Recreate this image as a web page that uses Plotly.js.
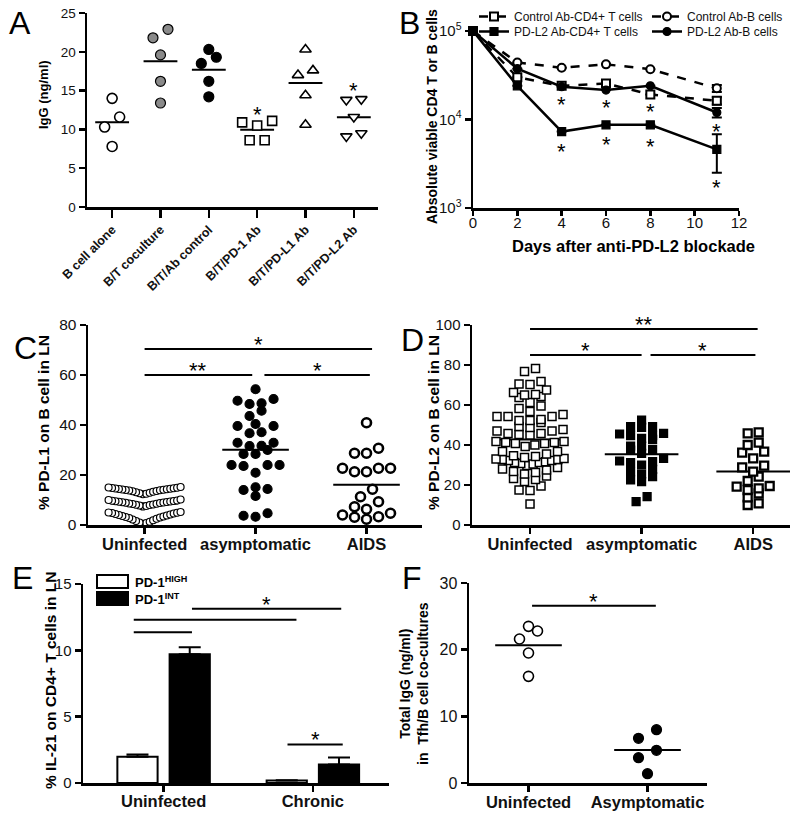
<!DOCTYPE html>
<html>
<head>
<meta charset="utf-8">
<script src="https://cdn.plot.ly/plotly-3.0.1.min.js"></script>
<style>html,body{margin:0;padding:0;background:#fff}#fig{width:800px;height:817px}</style>
</head>
<body>
<div id="fig"></div>
<script>
// A: IgG in B/T cocultures
const groupsA = ['B cell alone', 'B/T coculture', 'B/T/Ab control', 'B/T/PD-1 Ab', 'B/T/PD-L1 Ab', 'B/T/PD-L2 Ab'];
const bAlone = [14.0, 11.6, 10.3, 7.8];
const btCoculture = [22.9, 21.8, 19.6, 16.2, 13.4];
const btAbControl = [20.3, 19.3, 18.5, 16.2, 14.2];
const btPD1 = [11.1, 10.9, 10.5, 8.6, 8.6];
const btPDL1 = [20.3, 17.6, 17.0, 14.4, 10.6];
const btPDL2 = [13.9, 13.8, 11.6, 9.5, 9.1];
const starsA = [[3, 12.7], [5, 15.9]];

// B: viable cells after blockade
const days = [0, 2, 4, 6, 8, 11];
const ctrlT = [100000, 30000, 24000, 25500, 19200, 16300];
const ctrlB = [100000, 44000, 38500, 42000, 37000, 22500];
const pdl2T = [100000, 24000, 7300, 8700, 8700, 4600];
const pdl2B = [100000, 37500, 23500, 21500, 24000, 12000];
const ctrlTErr = [0, 0, 0, 0, 0, 1500];
const ctrlBErr = [0, 0, 0, 0, 0, 2000];
const pdl2TErrUp = [0, 0, 0, 0, 0, 2200];
const pdl2TErrDown = [0, 0, 0, 0, 0, 2100];
const pdl2BErr = [0, 0, 0, 0, 0, 1500];
const starsB = [[4, 17400], [4, 5200], [6, 16100], [6, 6100], [8, 14600], [8, 5900], [11, 8700], [11, 2000]];

// C: PD-L1 on LN B cells
const groupsC = ['Uninfected', 'asymptomatic', 'AIDS'];
const pdl1Uninf = [0.5, 0.8, 1.0, 1.3, 1.6, 1.9, 2.2, 2.5, 2.8, 3.0, 3.2, 3.4, 3.6, 3.8, 4.0, 4.2, 4.4, 4.6, 4.8, 4.9, 5.0, 5.2,
  7.4, 7.6, 7.8, 8.0, 8.1, 8.2, 8.4, 8.5, 8.6, 8.8, 8.9, 9.0, 9.1, 9.2, 9.3, 9.4, 9.5, 9.6, 9.7, 9.8, 10.0, 10.2,
  12.3, 12.5, 12.7, 12.9, 13.1, 13.3, 13.5, 13.6, 13.8, 13.9, 14.0, 14.1, 14.2, 14.3, 14.4, 14.5, 14.6, 14.7, 14.8, 14.9, 15.0, 15.2];
const pdl1Asym = [54.3, 50.4, 48.7, 49.7, 48.4, 45.7, 43.6, 40.4, 39.6, 36.7, 37.1, 39.6, 32.9, 31.6, 31.7, 30.0,
  32.9, 28.4, 28.4, 24.0, 24.0, 23.6, 24.0, 20.9, 15.1, 14.0, 14.4, 11.6, 4.7, 3.3, 3.7];
const pdl1Aids = [40.9, 30.7, 28.7, 28.7, 22.7, 21.3, 21.3, 22.7, 22.7, 14.3, 11.3, 9.3, 7.3, 4.7, 3.3, 2.3, 3.1, 4.0, 6.3];
const sigC = [[0, 2.05, 70.4, '*'], [0, 0.97, 60, '**'], [1.08, 2.03, 60, '*']];

// D: PD-L2 on LN B cells
const groupsD = ['Uninfected', 'asymptomatic', 'AIDS'];
const pdl2Uninf = [76.7, 78.3, 71.7, 70.3, 70.5, 66.2, 67.5, 63.7, 65.0, 65.3, 64.2, 61.2, 59.5, 58.3,
  56.7, 54.2, 54.2, 52.8, 51.2, 52.2, 52.2, 54.2, 55.3, 48.7, 47.0, 45.8, 45.3, 45.0, 45.8, 47.0, 47.8, 49.2,
  41.7, 41.3, 40.8, 39.2, 36.7, 36.7, 40.0, 40.8, 41.2, 41.7, 34.2, 33.3, 32.8, 32.2, 31.2, 30.5, 31.2, 32.2,
  32.8, 33.8, 35.5, 30.8, 31.6, 33.0, 34.6, 29.8, 28.0, 26.2, 25.5, 23.3, 24.5, 26.7, 27.5, 28.8, 21.7, 22.8,
  17.5, 17.2, 19.5, 10.5];
const pdl2Asym = [52.5, 49.2, 48.8, 49.2, 42.8, 45.5, 44.7, 44.7, 45.8, 43.3, 39.5, 39.5, 37.8, 37.5, 35.8,
  33.3, 31.7, 30.0, 31.2, 32.0, 27.8, 25.5, 26.7, 22.5, 21.7, 24.2, 14.2, 11.7];
const pdl2Aids = [45.8, 46.3, 40.0, 41.2, 36.7, 36.2, 33.3, 28.8, 29.7, 24.2, 26.7, 19.2, 18.3, 17.5, 19.5,
  22.0, 13.8, 15.8, 10.0, 10.8];
const sigD = [[0, 2.04, 98, '**'], [0, 1.0, 85, '*'], [1.08, 2.02, 85, '*']];

// E: IL-21 on CD4+ T cells
const groupsE = ['Uninfected', 'Chronic'];
const il21High = [1.97, 0.18];
const il21HighErr = [0.17, 0.02];
const il21Int = [9.7, 1.39];
const il21IntErr = [0.53, 0.53];
const sigE = [[0.19, 1.19, 13.13, '*'], [-0.2, 0.89, 12.3, ''], [-0.2, 0.19, 11.37, ''], [0.83, 1.2, 2.9, '*']];

// F: total IgG in Tfh/B cocultures
const groupsF = ['Uninfected', 'Asymptomatic'];
const igUninf = [22.8, 21.6, 23.5, 19.5, 16.0];
const igAsym = [8.0, 6.7, 4.9, 3.8, 1.4];
const sigF = [[0.03, 1.07, 26.6, '*']];

const FONT = 'Liberation Sans, Arial, sans-serif';
const W = 800, H = 817;

// plot boxes in pixels
const boxes = {
  a: {n: '', l: 87, r: 378, t: 13, b: 207, xr: [-0.52, 5.5], yr: [0, 25]},
  b: {n: '2', l: 473, r: 739, t: 31, b: 208, xr: [0, 12], yr: [3, 5]},
  c: {n: '3', l: 88, r: 422, t: 325, b: 525, xr: [-0.51, 2.5], yr: [0, 80]},
  d: {n: '4', l: 472, r: 790, t: 325, b: 525, xr: [-0.52, 2.33], yr: [0, 100]},
  e: {n: '5', l: 83, r: 389, t: 584, b: 783, xr: [-0.54, 1.51], yr: [0, 15]},
  f: {n: '6', l: 469, r: 707, t: 583, b: 783, xr: [-0.5, 1.5], yr: [0, 30]}
};
const pxX = k => (boxes[k].r - boxes[k].l) / (boxes[k].xr[1] - boxes[k].xr[0]);
const pxY = k => (boxes[k].b - boxes[k].t) / (boxes[k].yr[1] - boxes[k].yr[0]);
const ax = k => ({xaxis: 'x' + boxes[k].n, yaxis: 'y' + boxes[k].n});

// column scatter layout: rows of close values spread sideways, lowest in the middle
const swarm = (values, idx, k, rowPx, spacePx, capPx) => {
  const sorted = values.slice().sort((a, b) => a - b);
  const rowH = rowPx / pxY(k);
  const rows = [];
  let row = [];
  sorted.forEach(v => {
    if (row.length && v - row[0] >= rowH) { rows.push(row); row = []; }
    row.push(v);
  });
  if (row.length) rows.push(row);
  const xs = [], ys = [];
  rows.forEach(r => {
    const n = r.length;
    const step = n > 1 ? Math.min(spacePx, capPx / (n - 1)) : 0;
    const slots = [];
    for (let i = 0; i < n; i++) slots.push(i - (n - 1) / 2);
    slots.sort((a, b) => Math.abs(a) - Math.abs(b) || a - b);
    r.forEach((v, i) => { xs.push(idx + slots[i] * step / pxX(k)); ys.push(v); });
  });
  return {x: xs, y: ys};
};

const traces = [];
const annotations = [];

const dots = (vals, idx, k, sw, marker) => {
  const p = swarm(vals, idx, k, sw[0], sw[1], sw[2]);
  traces.push(Object.assign({type: 'scatter', mode: 'markers', x: p.x, y: p.y, marker,
    showlegend: false, cliponaxis: false, hoverinfo: 'skip'}, ax(k)));
};

const meanLine = (vals, idx, k, half) => {
  const m = vals.reduce((s, v) => s + v, 0) / vals.length;
  traces.push(Object.assign({type: 'scatter', mode: 'lines', x: [idx - half, idx + half], y: [m, m],
    line: {color: '#000', width: 2}, showlegend: false, hoverinfo: 'skip', cliponaxis: false}, ax(k)));
};

const STAR = 22;
const starShift = 0.29 * STAR;
const star = (x, y, k, shift, text) => {
  annotations.push({x, y, xref: 'x' + boxes[k].n, yref: 'y' + boxes[k].n, text: text || '*', showarrow: false,
    yanchor: 'middle', yshift: shift - starShift, font: {family: FONT, size: STAR, color: '#000'}});
};

const sigBars = (list, k) => {
  const xs = [], ys = [];
  list.forEach(([x0, x1, y, lab]) => {
    xs.push(x0, x1, null); ys.push(y, y, null);
    if (lab) star((x0 + x1) / 2, y, k, 11, lab);
  });
  traces.push(Object.assign({type: 'scatter', mode: 'lines', x: xs, y: ys, line: {color: '#000', width: 2},
    showlegend: false, hoverinfo: 'skip', cliponaxis: false}, ax(k)));
};

const openMk = (symbol, size, lw) => ({symbol, size, color: '#fff', line: {color: '#000', width: lw}});
const fillMk = (symbol, size, color) => ({symbol, size, color, line: {color: '#000', width: 1.2}});

// panel A
const swA = [11, 15, 40];
[bAlone, btCoculture, btAbControl, btPD1, btPDL1, btPDL2].forEach((v, i) => meanLine(v, i, 'a', 0.35));
dots(bAlone, 0, 'a', swA, openMk('circle', 10, 1.6));
dots(btCoculture, 1, 'a', swA, fillMk('circle', 10, '#8a8a8a'));
dots(btAbControl, 2, 'a', swA, fillMk('circle', 10, '#000'));
dots(btPD1, 3, 'a', swA, openMk('square', 9, 1.6));
dots(btPDL1, 4, 'a', swA, openMk('triangle-up', 10, 1.6));
dots(btPDL2, 5, 'a', swA, openMk('triangle-down', 10, 1.6));
starsA.forEach(([x, y]) => star(x, y, 'a', 0));

// panel B, one legend box per entry so rows sit tight
const lineB = (y, name, legend, dash, marker, errUp, errDown) => {
  traces.push(Object.assign({type: 'scatter', mode: 'lines+markers', x: days, y, name, legend,
    line: {color: '#000', width: 2.5, dash}, marker, cliponaxis: false, hoverinfo: 'skip',
    error_y: {type: 'data', array: errUp, arrayminus: errDown || errUp, symmetric: false,
      color: '#000', thickness: 2, width: 5}}, ax('b')));
};
lineB(ctrlT, 'Control Ab-CD4+ T cells', 'legend', 'dash', openMk('square', 8, 2), ctrlTErr);
lineB(pdl2T, 'PD-L2 Ab-CD4+ T cells', 'legend2', 'solid', fillMk('square', 8, '#000'), pdl2TErrUp, pdl2TErrDown);
lineB(ctrlB, 'Control Ab-B cells', 'legend3', 'dash', openMk('circle', 8, 2), ctrlBErr);
lineB(pdl2B, 'PD-L2 Ab-B cells', 'legend4', 'solid', fillMk('circle', 8, '#000'), pdl2BErr);
starsB.forEach(([x, y]) => star(x, Math.log10(y), 'b', 0));

// panel C
[pdl1Uninf, pdl1Asym, pdl1Aids].forEach((v, i) => meanLine(v, i, 'c', 0.3));
dots(pdl1Uninf, 0, 'c', [12, 12, 72], openMk('circle', 7, 1.2));
dots(pdl1Asym, 1, 'c', [8, 12, 72], fillMk('circle', 9, '#000'));
dots(pdl1Aids, 2, 'c', [8, 12, 72], openMk('circle', 9, 2.6));
sigBars(sigC, 'c');

// panel D
[pdl2Uninf, pdl2Asym, pdl2Aids].forEach((v, i) => meanLine(v, i, 'd', 0.33));
dots(pdl2Uninf, 0, 'd', [7, 11, 68], openMk('square', 8, 1.5));
dots(pdl2Asym, 1, 'd', [7, 11, 68], fillMk('square', 8, '#000'));
dots(pdl2Aids, 2, 'd', [7, 11, 68], openMk('square', 8, 2.3));
sigBars(sigD, 'd');

// panel E
const barE = (y, err, color) => {
  traces.push(Object.assign({type: 'bar', x: [0, 1], y, marker: {color, line: {color: '#000', width: 2}},
    error_y: {type: 'data', array: err, arrayminus: [0, 0], symmetric: false, color: '#000', thickness: 2, width: 11},
    showlegend: false, hoverinfo: 'skip'}, ax('e')));
};
barE(il21High, il21HighErr, '#fff');
barE(il21Int, il21IntErr, '#000');
sigBars(sigE, 'e');

// panel F
[igUninf, igAsym].forEach((v, i) => meanLine(v, i, 'f', 0.28));
dots(igUninf, 0, 'f', [10, 18, 40], openMk('circle', 10, 1.6));
dots(igAsym, 1, 'f', [10, 18, 40], fillMk('circle', 10, '#000'));
sigBars(sigF, 'f');

// axes
const tf = (size, weight) => ({family: FONT, size, color: '#111', weight: weight || 'normal'});
const axisBase = {showline: true, linecolor: '#000', linewidth: 2.5, ticks: 'outside', ticklen: 6,
  tickwidth: 2.5, tickcolor: '#000', showgrid: false, zeroline: false, fixedrange: true};
const legendAt = (x, top) => ({x: x / W, y: 1 - top / H, xanchor: 'left', yanchor: 'top',
  bgcolor: 'rgba(0,0,0,0)', font: {family: FONT, size: 12, color: '#111'}});
const layout = {
  width: W, height: H, margin: {l: 0, r: 0, t: 0, b: 0}, paper_bgcolor: '#fff', plot_bgcolor: 'rgba(0,0,0,0)',
  showlegend: true, barmode: 'group', bargap: 0.3, bargroupgap: 0.23, font: {family: FONT, color: '#000'},
  legend: legendAt(474, 2), legend2: legendAt(474, 17), legend3: legendAt(647, 2), legend4: legendAt(647, 17),
  annotations, shapes: []
};
const addAxes = (k, xExtra, yExtra) => {
  const bx = boxes[k];
  layout['xaxis' + bx.n] = Object.assign({}, axisBase, {domain: [bx.l / W, bx.r / W], range: bx.xr,
    anchor: 'y' + bx.n}, xExtra);
  layout['yaxis' + bx.n] = Object.assign({}, axisBase, {domain: [1 - bx.b / H, 1 - bx.t / H], range: bx.yr,
    anchor: 'x' + bx.n}, yExtra);
};
const cats = (names, size, standoff) => ({tickmode: 'array', tickvals: names.map((_, i) => i), ticktext: names,
  tickfont: tf(size, 'bold'), ticklabelstandoff: standoff || 0});
addAxes('a', Object.assign(cats(groupsA, 12.5), {tickangle: -45, ticklen: 8}), {dtick: 5, tickfont: tf(13.5)});
addAxes('b', {dtick: 2, ticklen: 5, ticklabelstandoff: -6, tickfont: tf(15)}, {type: 'log', tickmode: 'array',
  tickvals: [3, 4, 5].map(p => Math.pow(10, p)),
  ticktext: ['10<sup>3</sup>', '10<sup>4</sup>', '10<sup>5</sup>'], tickfont: tf(15)});
addAxes('c', cats(groupsC, 16.5, -3), {dtick: 20, tickfont: tf(15.5)});
addAxes('d', cats(groupsD, 16.5, -3), {dtick: 20, tickfont: tf(15)});
addAxes('e', cats(groupsE, 16.5, -4), {dtick: 5, tickfont: tf(15)});
addAxes('f', cats(groupsF, 16.5, -3), {dtick: 10, tickfont: tf(16)});

// axis titles and panel letters, placed in pixels
const paperText = (text, x, y, size, angle, weight) => {
  annotations.push({text, x: x / W, y: 1 - y / H, xref: 'paper', yref: 'paper', showarrow: false,
    textangle: angle, xanchor: 'center', yanchor: 'middle', font: {family: FONT, size, color: '#000', weight}});
};
paperText('IgG (ng/ml)', 44, 95, 13, -90, 'bold');
paperText('Absolute viable CD4 T or B cells', 432, 117, 14, -90, 'bold');
paperText('Days after anti-PD-L2 blockade', 633, 246, 16.5, 0, 'bold');
paperText('% PD-L1 on B cell in LN', 43, 423, 15.5, -90, 'bold');
paperText('% PD-L2 on B cell in LN', 433, 423, 15.5, -90, 'bold');
paperText('% IL-21 on CD4+ T cells in LN', 50, 681, 15.5, -90, 'bold');
paperText('Total IgG (ng/ml)<br>in  Tfh/B cell co-cultures', 414, 683, 14, -90, 'bold');
[['A', 20, 23], ['B', 410, 23], ['C', 25, 348], ['D', 412, 340], ['E', 22, 578], ['F', 412, 578]]
  .forEach(([t, x, y]) => paperText(t, x, y, 32, 0, 'normal'));

// panel E legend
[['#fff', 575, 'PD-1<sup>HIGH</sup>'], ['#000', 592, 'PD-1<sup>INT</sup>']].forEach(([c, top, label]) => {
  layout.shapes.push({type: 'rect', xref: 'paper', yref: 'paper', x0: 97 / W, x1: 128 / W,
    y0: 1 - (top + 13) / H, y1: 1 - top / H, fillcolor: c, line: {color: '#000', width: 2}});
  annotations.push({text: label, x: 133 / W, y: 1 - (top + 6.5) / H, xref: 'paper', yref: 'paper', showarrow: false,
    xanchor: 'left', yanchor: 'middle', font: {family: FONT, size: 13, color: '#000', weight: 'bold'}});
});

Plotly.newPlot('fig', traces, layout, {displayModeBar: false, staticPlot: true});
</script>
</body>
</html>
